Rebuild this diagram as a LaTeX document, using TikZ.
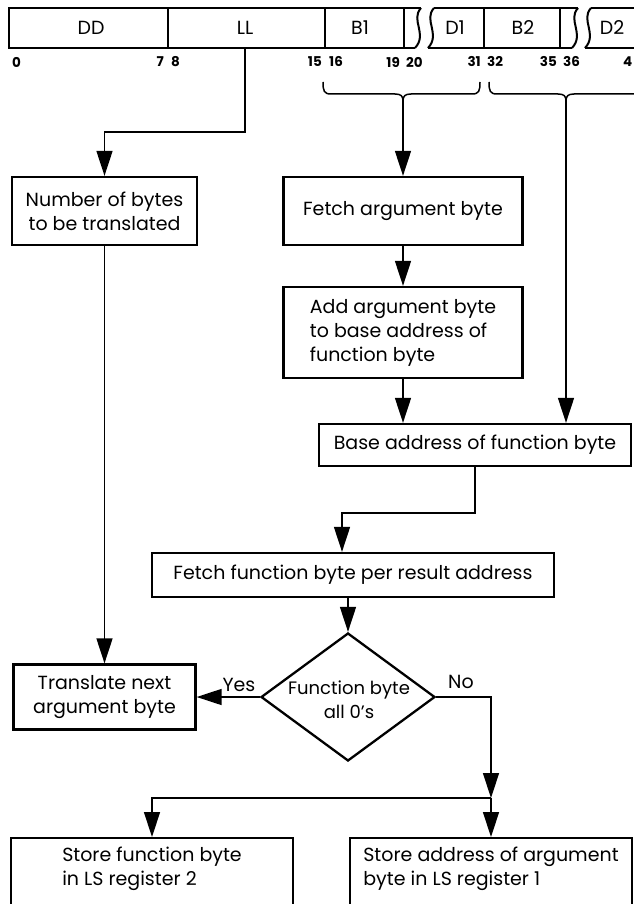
\documentclass[tikz,border=0pt]{standalone}
\usepackage{fontspec}
\setmainfont{Poppins}
\usetikzlibrary{arrows.meta,shapes.geometric,calc}

\begin{document}
\begin{tikzpicture}[x=1pt,y=-1pt,
  font=\fontsize{19}{24}\selectfont,
  box/.style={draw, line width=2.3pt, inner sep=0pt},
  decision/.style={draw, diamond, line width=2.3pt, inner sep=0pt,
    minimum width=174pt, minimum height=128pt},
  link/.style={line width=1.4pt},
  arr/.style={link, -{Triangle[length=25pt,width=16pt]}},
  bar/.style={line width=2pt, line join=miter},
  brace/.style={line width=1.5pt},
  bitno/.style={font=\fontsize{13.5}{14}\selectfont\bfseries, inner sep=0pt},
  field/.style={inner sep=0pt},
]
\useasboundingbox (0,0) rectangle (633,904);
\fill[white] (0,0) rectangle (633,904);

% ---- instruction format: DD LL B1 D1 B2 D2 ----
\draw[bar] (421,8) -- (9,8) -- (9,48) -- (415,48);
\draw[bar] (421,8) .. controls (410,20) and (428,34) .. (415,48);
\draw[bar] (434,8) .. controls (423,20) and (441,34) .. (428,48);
\draw[bar] (434,8) -- (578,8);
\draw[bar] (428,48) -- (572,48);
\draw[bar] (578,8) .. controls (567,20) and (585,34) .. (572,48);
\draw[bar] (591,8) .. controls (580,20) and (598,34) .. (585,48);
\draw[bar] (591,8) -- (660,8);
\draw[bar] (585,48) -- (660,48);
\foreach \xd in {167.5,325,404,484,560}
  \draw[bar] (\xd,8) -- (\xd,48);

\node[field] (fDD) at (91,28) {DD};
\node[field] (fLL) at (245,28) {LL};
\node[field] (fB1) at (360,28) {B1};
\node[field] (fD1) at (455,28) {D1};
\node[field] (fB2) at (523,28) {B2};
\node[field] (fD2) at (612,28) {D2};

% bit positions
\node[bitno, anchor=west] (n0)  at (12,62)  {0};
\node[bitno, anchor=east] (n7)  at (164,62) {7};
\node[bitno, anchor=west] (n8)  at (171,62) {8};
\node[bitno, anchor=east] (n15) at (322,62) {15};
\node[bitno, anchor=west] (n16) at (329,62) {16};
\node[bitno, anchor=east] (n19) at (400,62) {19};
\node[bitno, anchor=west] (n20) at (406,62) {20};
\node[bitno, anchor=east] (n31) at (481,62) {31};
\node[bitno, anchor=west] (n32) at (487,62) {32};
\node[bitno, anchor=east] (n35) at (557,62) {35};
\node[bitno, anchor=west] (n36) at (563,62) {36};
\node[bitno, anchor=east] (n4)  at (632.5,62) {4};

% braces grouping B1/D1 and B2/D2
\coordinate (bLc) at (403,101);
\coordinate (bRc) at (566,101);
\draw[brace] (323,82) .. controls (323,91) and (324,94) .. (331,94) -- (395,94)
  .. controls (401,94) and (403,96) .. (bLc);
\draw[brace] (480,82) .. controls (480,91) and (479,94) .. (472,94) -- (411,94)
  .. controls (405,94) and (403,96) .. (bLc);
\draw[brace] (489,82) .. controls (489,91) and (490,94) .. (497,94) -- (558,94)
  .. controls (564,94) and (566,96) .. (bRc);
\draw[brace] (643,82) .. controls (643,91) and (642,94) .. (635,94) -- (574,94)
  .. controls (568,94) and (566,96) .. (bRc);

% ---- flow chart ----
\node[box, minimum width=185pt, minimum height=68pt, align=center] (nb)
  at (104.5,211) {Number of bytes\\to be translated};
\node[box, minimum width=239pt, minimum height=68pt, align=center] (fab)
  at (403,211) {Fetch argument byte};
\node[box, minimum width=239pt, minimum height=91pt, align=left] (aab)
  at (403,332.5) {Add argument byte\\to base address of\\function byte};
\node[box, minimum width=312pt, minimum height=42pt, align=center] (base)
  at (475,445) {Base address of function byte};
\node[box, minimum width=402pt, minimum height=44pt, align=center] (ffb)
  at (353,575) {Fetch function byte per result address};
\node[decision] (dia) at (348,697) {};
\node[align=center, inner sep=0pt, font=\fontsize{18}{24}\selectfont] (diatxt)
  at (349,700) {Function byte\\all 0\symbol{39}s};
\node[box, minimum width=182pt, minimum height=65pt, align=center] (tr)
  at (104.5,697) {Translate next\\argument byte};
\node[box, minimum width=282pt, minimum height=120pt, anchor=north] (s2)
  at (152,837) {};
\node[align=left, inner sep=0pt, anchor=north] (s2txt)
  at ([yshift=-10pt]s2.north) {Store function byte\\in LS register 2};
\node[box, minimum width=282pt, minimum height=120pt, anchor=north] (s1)
  at (491,837) {};
\node[align=left, inner sep=0pt, anchor=north] (s1txt)
  at ([yshift=-10pt]s1.north) {Store address of argument\\byte in LS register 1};

\node[inner sep=0pt] (yes) at (239,685) {Yes};
\node[inner sep=0pt] (no) at (461,682) {No};

% ---- connectors ----
\coordinate (llb) at (245,48);
\coordinate (lljog) at (245,132);
\coordinate (jn) at (491,798);

\draw[arr] (llb) -- (lljog) -| (nb.north);
\draw[arr] (bLc) -- (fab.north);
\draw[arr] (fab.south) -- (aab.north);
\draw[arr] (aab.south) -- (aab.south |- base.north);
\draw[arr] (bRc) -- (bRc |- base.north);
\draw[arr] (base.south) -- ++(0,46) -| ([xshift=-11pt]ffb.north);
\draw[arr] ([xshift=-5pt]ffb.south) -- (dia.north);
\draw[arr] (nb.south) -- (nb.south |- tr.north);
\draw[arr] (dia.west) -- (tr.east);
\draw[arr] (dia.east) -| (jn);
\draw[arr] (jn) -- (s1.north);
\draw[arr] (jn) -| (s2.north);
\end{tikzpicture}
\end{document}
